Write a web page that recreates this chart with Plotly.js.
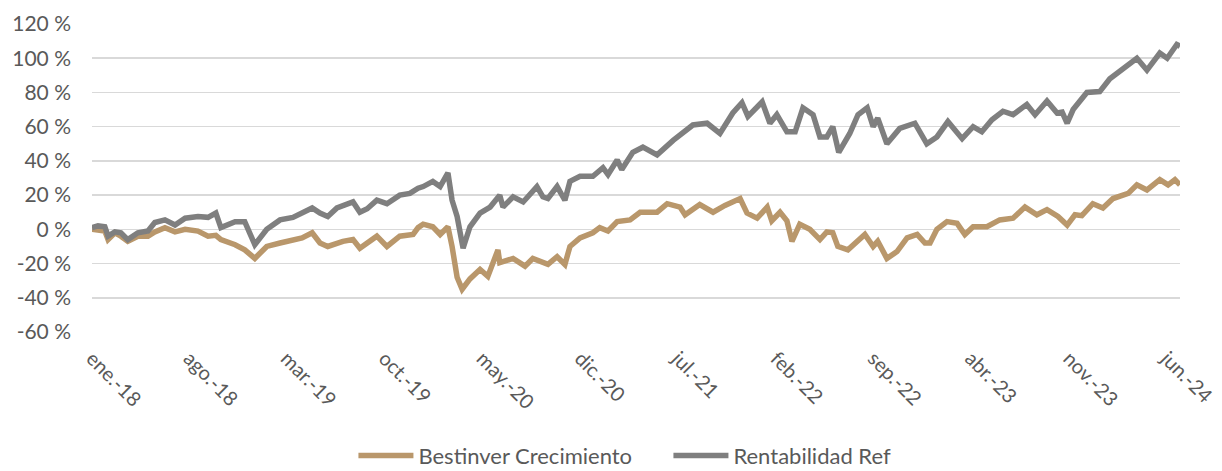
<!DOCTYPE html>
<html>
<head>
<meta charset="utf-8">
<script src="https://cdn.plot.ly/plotly-3.0.1.min.js"></script>
<style>
html,body{margin:0;padding:0;background:#fff;}
#chart{width:1222px;height:471px;}
</style>
</head>
<body>
<div id="chart"></div>
<script>
// Rentabilidad Ref (grey)
var refDates = ["2018-01-01","2018-01-14","2018-01-29","2018-02-05","2018-02-20","2018-03-05","2018-03-20","2018-04-11","2018-05-03","2018-05-18","2018-06-09","2018-07-01","2018-07-23","2018-08-20","2018-09-11","2018-09-28","2018-10-09","2018-11-09","2018-11-30","2018-12-22",
"2019-01-17","2019-02-15","2019-03-15","2019-04-04","2019-04-26","2019-05-13","2019-05-30","2019-06-19","2019-07-24","2019-08-08","2019-08-24","2019-09-14","2019-10-06","2019-11-03","2019-11-25","2019-12-13","2019-12-24",
"2020-01-14","2020-01-30","2020-02-16","2020-02-25","2020-03-07","2020-03-20","2020-04-04","2020-04-26","2020-05-18","2020-06-08","2020-06-15","2020-07-07","2020-07-29","2020-08-28","2020-09-10","2020-09-21","2020-10-11","2020-10-28","2020-11-08","2020-11-30","2020-12-28",
"2021-01-19","2021-01-30","2021-02-19","2021-03-01","2021-03-25","2021-04-16","2021-05-17","2021-06-21","2021-07-21","2021-08-03","2021-09-03","2021-10-01","2021-10-29","2021-11-18","2021-12-01",
"2022-01-01","2022-01-18","2022-02-02","2022-02-24","2022-03-14","2022-03-31","2022-04-22","2022-05-07","2022-05-22","2022-06-04","2022-06-17","2022-07-11","2022-07-29","2022-08-18","2022-08-31","2022-09-10","2022-09-30","2022-10-28","2022-11-30","2022-12-26",
"2023-01-17","2023-02-10","2023-03-13","2023-04-06","2023-04-25","2023-05-17","2023-06-10","2023-07-02","2023-08-01","2023-08-19","2023-09-14","2023-10-06","2023-10-17","2023-10-28","2023-11-10","2023-12-10",
"2024-01-07","2024-01-29","2024-02-27","2024-03-28","2024-04-19","2024-05-17","2024-06-02","2024-06-23","2024-06-30"];
var refValues = [1,2,1.5,-4,-1.5,-2,-6,-2,-1,4,5.5,2.5,6.5,7.5,7,9.5,1,4.5,4.5,-9,
0,5.5,7,10,12.5,9.5,7.5,12.5,16,10,12,17,15,20,21,24,25,
28,25,33,17,7.5,-11,1.5,9.5,13,20,13,19,16,25,19,18,25,17,28,31,31,
36,32,40.5,35,45,48,43.5,52,58,61,62,56,68,74,66,
74.5,62,67,57,57,71,67,54,54,60,45,56,67,71,60,65,50,59,62,50,
54,63,53,60,57,64,69,67,73,67,75,68,68.5,62,70,80,
80.5,88,94,100,93,103,100,108,107];

// Bestinver Crecimiento (gold)
var bestDates = ["2018-01-01","2018-01-29","2018-02-05","2018-02-20","2018-03-05","2018-03-20","2018-04-11","2018-05-03","2018-05-18","2018-06-09","2018-07-01","2018-07-23","2018-08-20","2018-09-11","2018-09-28","2018-10-09","2018-11-09","2018-11-30","2018-12-22",
"2019-01-17","2019-02-15","2019-03-15","2019-04-04","2019-04-26","2019-05-13","2019-05-30","2019-07-02","2019-07-24","2019-08-08","2019-09-14","2019-10-06","2019-11-03","2019-12-02","2019-12-13","2019-12-24",
"2020-01-14","2020-01-30","2020-02-16","2020-02-25","2020-03-07","2020-03-18","2020-04-04","2020-04-26","2020-05-13","2020-06-04","2020-06-08","2020-07-07","2020-08-02","2020-08-19","2020-09-21","2020-10-11","2020-10-28","2020-11-08","2020-11-30","2020-12-28",
"2021-01-12","2021-01-30","2021-02-19","2021-03-19","2021-04-10","2021-05-17","2021-06-08","2021-07-06","2021-07-17","2021-08-18","2021-09-16","2021-10-12","2021-11-14","2021-11-29","2021-12-21",
"2022-01-12","2022-01-22","2022-02-09","2022-02-24","2022-03-07","2022-03-24","2022-04-15","2022-05-07","2022-05-22","2022-06-04","2022-06-15","2022-07-07","2022-07-22","2022-08-13","2022-08-31","2022-09-10","2022-09-30","2022-10-22","2022-11-13","2022-12-05","2022-12-22",
"2023-01-02","2023-01-17","2023-02-08","2023-03-02","2023-03-19","2023-04-06","2023-05-06","2023-06-03","2023-07-02","2023-07-28","2023-08-23","2023-09-14","2023-10-08","2023-10-28","2023-11-14","2023-11-29","2023-12-23",
"2024-01-14","2024-02-05","2024-03-09","2024-03-28","2024-04-19","2024-05-17","2024-06-04","2024-06-19","2024-06-30"];
var bestValues = [0,-1,-6,-2,-4,-7,-4,-4,-1.5,1,-1.5,0,-1,-4,-3.5,-6,-9,-12,-17,
-10,-8,-6,-5,-2,-8,-10,-7,-6,-11,-4,-10,-4,-3,1,3,
1.5,-3,1.5,-10,-28,-35,-29,-23.5,-27.5,-12,-19.5,-17,-21.5,-17,-20.5,-16,-20.5,-10,-5,-2,
1,-1,4.5,5.5,10,10,15,13,8.5,14.5,10,14,18,9.5,6.5,
13,5,10,5,-7,3,0,-6,-1.5,-2,-10,-12,-8,-3,-10,-7,-17,-13,-5,-3,-8,
-8,0,4.5,3.5,-3,1.5,1.5,5.5,6.5,13,8.5,11.5,7.5,2.5,8.5,8,15,
12.5,18,21,26,23,29,26,29,26];

var xTickVals = ["2018-01-01","2018-08-01","2019-03-01","2019-10-01","2020-05-01","2020-12-01","2021-07-01","2022-02-01","2022-09-01","2023-04-01","2023-11-01","2024-06-01"];
var xTickText = ["ene.-18","ago.-18","mar.-19","oct.-19","may.-20","dic.-20","jul.-21","feb.-22","sep.-22","abr.-23","nov.-23","jun.-24"];
var yTickVals = [-60,-40,-20,0,20,40,60,80,100,120];
var yTickText = ["-60 %","-40 %","-20 %","0 %","20 %","40 %","60 %","80 %","100 %","120 %"];

var fontFam = "Lato, 'Open Sans', sans-serif";
var txtColor = "#595959";

var traces = [
  {x: bestDates, y: bestValues, type: "scatter", mode: "lines", name: "Bestinver Crecimiento",
   line: {color: "#B9976B", width: 5.5}},
  {x: refDates, y: refValues, type: "scatter", mode: "lines", name: "Rentabilidad Ref",
   line: {color: "#7F7F7F", width: 5.5}}
];

var layout = {
  width: 1222, height: 471,
  margin: {l: 92, r: 42, t: 24, b: 139, pad: 0},
  paper_bgcolor: "#ffffff", plot_bgcolor: "#ffffff",
  font: {family: fontFam, size: 21, color: txtColor},
  showlegend: true,
  legend: {orientation: "h", xref: "container", yref: "container", x: 0.547, xanchor: "center",
           y: 0.077, yanchor: "top", font: {family: fontFam, size: 22, color: txtColor},
           itemwidth: 55, entrywidth: 245, entrywidthmode: "pixels",
           traceorder: "normal", tracegroupgap: 0},
  xaxis: {type: "date", range: ["2018-01-01", "2024-06-30"], tickmode: "array",
          tickvals: xTickVals, ticktext: xTickText, tickangle: 45, showgrid: false,
          zeroline: false, showline: false, ticks: "", ticklabelstandoff: 10,
          tickfont: {family: fontFam, size: 20, color: txtColor}},
  yaxis: {range: [-60, 120], tickmode: "array", tickvals: yTickVals, ticktext: yTickText,
          showgrid: true, gridcolor: "#D9D9D9", gridwidth: 1.5, zeroline: false, showline: false,
          ticks: "", ticklabelstandoff: 20,
          tickfont: {family: fontFam, size: 21, color: txtColor}}
};

Plotly.newPlot("chart", traces, layout, {displayModeBar: false, staticPlot: true});
</script>
</body>
</html>
